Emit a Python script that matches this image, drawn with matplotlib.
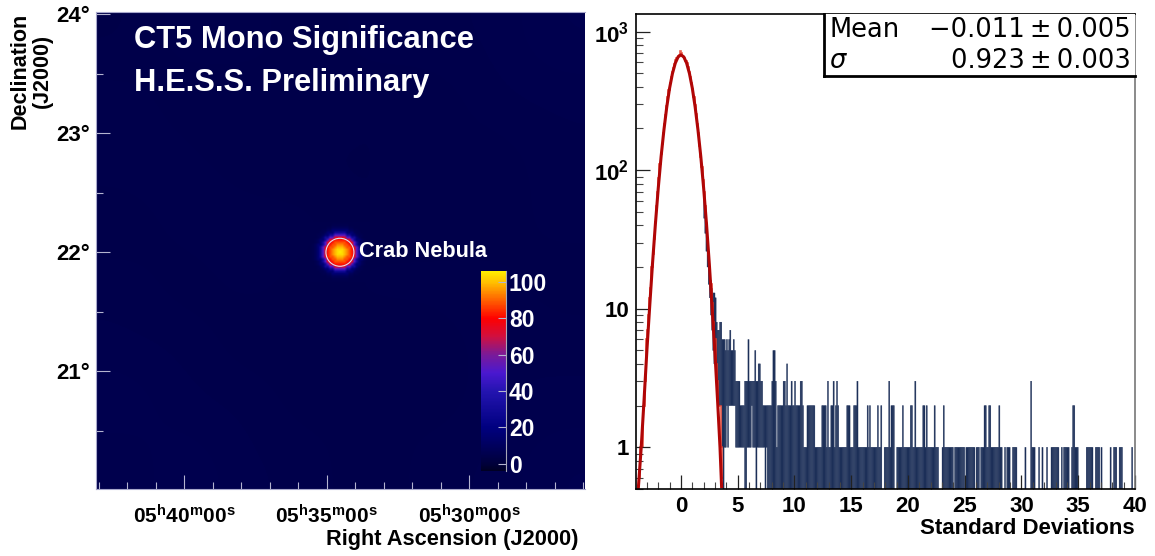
import numpy as np
import matplotlib
matplotlib.use('Agg')
import matplotlib.pyplot as plt
from matplotlib.colors import LinearSegmentedColormap, Normalize
from matplotlib.patches import Ellipse, Rectangle

W, H = 1155, 556
plt.rcParams['font.family'] = ['Liberation Sans', 'DejaVu Sans']
plt.rcParams['mathtext.fontset'] = 'custom'
plt.rcParams['mathtext.rm'] = 'Liberation Sans:bold'
plt.rcParams['mathtext.default'] = 'rm'

# --- significance map values
cmap_values = [-4, 0, 20, 40, 50, 60, 70, 80, 90, 100, 106]
cmap_colors = ['#000024', '#00003c', '#000080', '#2414b0', '#4a18d0', '#7a1a98', '#d01040',
               '#ff0000', '#ff6000', '#ffc000', '#ffee00']
background = [[5, 6, 5, 5, 4, 5, 5, 6],
              [6, 5, 5, 4, 5, 4, 5, 5],
              [5, 5, 4, 5, 4, 4, 5, 5],
              [5, 4, 5, 4, 5, 5, 5, 4],
              [4, 5, 5, 5, 4, 4, 4, 5],
              [5, 5, 4, 4, 4, 5, 4, 5],
              [5, 4, 4, 5, 4, 4, 5, 5],
              [4, 5, 5, 4, 5, 5, 5, 6]]
# value of the map by distance (in cells) from the source
spot_rings = [106, 103, 99, 94, 88, 82, 76, 52, 30, 16, 9, 6, 5]
source_ra = 34.54
source_dec = 22.0
ra_ticks = [40, 35, 30]
ra_labels = ['05$^{h}$40$^{m}$00$^{s}$', '05$^{h}$35$^{m}$00$^{s}$', '05$^{h}$30$^{m}$00$^{s}$']
dec_ticks = [21, 22, 23, 24]
dec_labels = ['21°', '22°', '23°', '24°']
cbar_ticks = [0, 20, 40, 60, 80, 100]

# --- histogram values (0.1 wide columns from 2.0 up, top and bottom of each)
tail_start = 2.0
tail_hi = [70, 56, 42, 32, 26, 20, 16, 14, 13, 13,
           12, 8, 7, 7, 8, 8, 6, 6, 6, 5,
           6, 5, 6, 7, 5, 5, 6, 5, 3, 3,
           3, 3, 2, 2, 2, 2, 3, 3, 3, 6,
           3, 3, 3, 3, 3, 5, 3, 3, 4, 4,
           3, 3, 2, 2, 2, 2, 2, 2, 2, 2,
           3, 5, 5, 3, 1, 2, 2, 2, 2, 2,
           3, 3, 2, 4, 2, 2, 2, 3, 2, 2,
           3, 2, 2, 2, 2, 3, 3, 2, 1, 1,
           1, 2, 2, 2, 2, 2, 2, 2, 1, 1,
           1, 1, 1, 1, 2, 2, 2, 2, 1, 3,
           1, 1, 2, 2, 3, 1, 2, 3, 2, 1,
           1, 1, 1, 1, 1, 1, 2, 2, 2, 1,
           1, 1, 2, 2, 2, 3, 1, 1, 1, 1,
           1, 1, 1, 1, 2, 1, 2, 1, 1, 1,
           1, 1, 1, 2, 1, 1, 2, 0, 0, 1,
           1, 1, 1, 3, 1, 2, 2, 2, 0, 0,
           1, 1, 1, 1, 1, 2, 1, 1, 1, 1,
           1, 1, 2, 2, 1, 1, 3, 1, 1, 1,
           1, 1, 1, 2, 2, 1, 2, 1, 1, 1,
           1, 1, 1, 2, 1, 1, 1, 0, 0, 0,
           1, 2, 1, 1, 1, 1, 1, 1, 1, 1,
           0, 1, 1, 1, 1, 1, 1, 1, 1, 1,
           0, 1, 1, 1, 1, 1, 1, 1, 1, 0,
           1, 1, 1, 0, 1, 1, 1, 2, 2, 1,
           1, 2, 2, 1, 1, 1, 1, 1, 1, 1,
           2, 1, 1, 0, 0, 1, 0, 1, 1, 1,
           0, 0, 1, 1, 1, 1, 0, 0, 0, 0,
           0, 0, 0, 1, 0, 0, 0, 0, 3, 1,
           1, 1, 0, 0, 0, 1, 0, 0, 1, 0,
           0, 0, 1, 0, 0, 0, 1, 1, 1, 1,
           1, 1, 1, 0, 0, 1, 0, 1, 1, 1,
           1, 1, 0, 0, 1, 2, 2, 1, 1, 1,
           0, 0, 0, 0, 0, 0, 0, 1, 1, 1,
           1, 1, 1, 0, 0, 1, 1, 1, 1, 0,
           1, 0, 0, 0, 0, 0, 0, 0, 1, 0,
           0, 1, 1, 1, 0, 0, 1, 1, 1, 0,
           0, 0, 0, 0, 0, 0, 0, 1, 0, 0]
# bottoms for the part where the columns do not reach the axis, the rest go down to it
tail_lo = [45, 35, 26, 20, 15, 12, 9, 7, 5, 4,
           4, 3, 2, 2, 2, 2, 1, 0, 1, 1,
           2, 1, 2, 2, 2, 2, 2, 2, 1, 1,
           1, 1, 1, 1, 1, 1, 0, 0, 1, 1,
           1, 1, 2, 1, 1, 1, 0, 1, 1, 1,
           1, 1, 1, 1, 0, 1, 0, 0, 0, 0]

# --- red histogram and fitted curve
core_start = -3.8
core_counts = [0.6, 0.6, 1, 1, 1, 2, 3, 6, 7, 9, 12, 14, 20, 25, 32, 42, 55, 70, 88, 110,
               130, 155, 185, 215, 250, 290, 335, 380, 425, 470, 510, 550, 585, 620, 645, 665, 680, 720,
               705, 670, 655, 640, 615, 590, 555, 515, 470, 425, 385, 340, 295, 255, 215, 185, 150,
               125, 105, 85, 70, 55, 40, 32, 25, 20, 15, 11, 8, 6, 6, 4, 3, 2, 2, 1, 0.6]
fit_x = [-3.76, -3.5, -3.25, -3.0, -2.75, -2.5, -2.25, -2.0, -1.75, -1.5, -1.25, -1.0, -0.75, -0.5, -0.25, 0,
         0.25, 0.5, 0.75, 1.0, 1.25, 1.5, 1.75, 2.0, 2.25, 2.5, 2.75, 3.0, 3.25, 3.44, 3.58]
fit_y = [0.5, 1.0, 2.2, 5, 10.5, 21.5, 41, 74, 125, 195, 286, 391, 498, 592, 657, 680,
         657, 592, 498, 391, 286, 195, 125, 74, 41, 21, 10, 4.7, 2.0, 1.0, 0.52]
mean_text = '−0.011\u2009±\u20090.005'
sigma_text = '0.923\u2009±\u20090.003'
x_ticks = [0, 5, 10, 15, 20, 25, 30, 35, 40]
y_ticks = [1, 10, 100, 1000]
y_labels = ['1', '10', '10$^{2}$', '10$^{3}$']


def px_axes(x0, y0, x1, y1):
    return fig.add_axes([x0 / W, 1 - y1 / H, (x1 - x0) / W, (y1 - y0) / H])


def px_text(x, y, s, **kw):
    kw.setdefault('va', 'center')
    kw.setdefault('fontweight', 'bold')
    return fig.text(x / W, 1 - y / H, s, **kw)


fig = plt.figure(figsize=(W / 100, H / 100), dpi=100)

# left panel
ax = px_axes(96, 12, 585, 489)
stops = [(v - cmap_values[0]) / (cmap_values[-1] - cmap_values[0]) for v in cmap_values]
cmap = LinearSegmentedColormap.from_list('hess', list(zip(stops, cmap_colors)))
norm = Normalize(cmap_values[0], cmap_values[-1])
ra_lim = (43.1, 25.94)
dec_lim = (20.01, 24.02)
ax.imshow(background, cmap=cmap, norm=norm, extent=[ra_lim[0], ra_lim[1], dec_lim[0], dec_lim[1]],
          aspect='auto', interpolation='bicubic', origin='lower')

n = len(spot_rings) - 1
spot = np.zeros((2 * n + 1, 2 * n + 1))
for i in range(2 * n + 1):
    for j in range(2 * n + 1):
        ring = min(int(round(np.hypot(i - n, j - n))), n)
        spot[i, j] = spot_rings[ring]
half_dec = (n + 0.5) * 0.02
half_ra = half_dec * 119 / 28.5
im = ax.imshow(spot, cmap=cmap, norm=norm, aspect='auto', interpolation='bilinear', origin='lower',
               extent=[source_ra + half_ra, source_ra - half_ra, source_dec - half_dec, source_dec + half_dec])
ax.set_xlim(ra_lim)
ax.set_ylim(dec_lim)
ax.add_patch(Ellipse((source_ra, source_dec), 2 * 14 / 28.5, 2 * 14 / 119, fill=False,
                     edgecolor='#e0e0f0', linewidth=0.8))

ax.set_xticks(ra_ticks)
ax.set_xticklabels(ra_labels, fontsize=15, fontweight='bold')
ax.set_xticks(np.arange(26, 44), minor=True)
ax.set_yticks(dec_ticks)
ax.set_yticklabels(dec_labels, fontsize=16, fontweight='bold')
ax.set_yticks([20.5, 21.5, 22.5, 23.5], minor=True)
ax.tick_params(which='major', direction='in', length=10, width=0.8, color='#b4b4d0', pad=4)
ax.tick_params(which='minor', direction='in', length=5, width=0.8, color='#b4b4d0')
ax.tick_params(axis='x', which='major', pad=11)
for side in ax.spines:
    ax.spines[side].set_color('#a8a8cc')
    ax.spines[side].set_linewidth(0.8)
ax.spines['right'].set_visible(False)

px_text(134, 40, 'CT5 Mono Significance', color='white', fontsize=22.2)
px_text(134, 83, 'H.E.S.S. Preliminary', color='white', fontsize=22.2)
px_text(359, 251, 'Crab Nebula', color='white', fontsize=15.7)
px_text(578, 539, 'Right Ascension (J2000)', ha='right', fontsize=15.7)
px_text(31, 13, 'Declination\n(J2000)', rotation=90, ha='center', va='top', ma='center', fontsize=15.5, linespacing=1.1)

# colour bar on top of the map
cax = px_axes(481, 271, 506, 471)
cb = fig.colorbar(im, cax=cax)
cb.set_ticks(cbar_ticks)
cb.ax.tick_params(direction='in', length=6, width=0.8, color='#b4b4d0', labelcolor='white',
                  labelsize=16.5, pad=2)
for lab in cb.ax.get_yticklabels():
    lab.set_fontweight('bold')
cb.outline.set_visible(False)
cb.ax.spines['right'].set_visible(True)
cb.ax.spines['right'].set_color('#a8a8b8')

# right panel
ax2 = px_axes(636, 14, 1135, 489)
ax2.set_yscale('log')
edges = tail_start + 0.1 * np.arange(len(tail_hi))
lows = tail_lo + [0] * (len(tail_hi) - len(tail_lo))
for x, hi, lo in zip(edges, tail_hi, lows):
    if hi > 0:
        bottom = max(lo, 0.5)
        ax2.bar(x, hi - bottom, width=0.1, bottom=bottom, align='edge', color='#1c2f58', linewidth=0.25,
                edgecolor='#1c2f58', snap=False)

core_edges = core_start + 0.1 * np.arange(len(core_counts) + 1)
ax2.stairs(core_counts, core_edges, baseline=None, color='#e8402c', linewidth=1.2, alpha=0.85)
ax2.plot(fit_x, fit_y, color='#b00606', linewidth=2.2)

ax2.set_xlim(-3.96, 40)
ax2.set_ylim(0.5, 1340)
ax2.set_xticks(x_ticks)
ax2.set_xticklabels([str(t) for t in x_ticks], fontsize=16, fontweight='bold')
ax2.set_xticks(np.arange(-3, 40, 1), minor=True)
ax2.set_yticks(y_ticks)
ax2.set_yticklabels(y_labels, fontsize=16, fontweight='bold')
ax2.yaxis.set_minor_locator(matplotlib.ticker.LogLocator(base=10, subs=range(2, 10), numticks=12))
ax2.yaxis.set_minor_formatter(matplotlib.ticker.NullFormatter())
ax2.tick_params(which='major', direction='in', length=10, width=0.9, color='#222222', pad=5)
ax2.tick_params(which='minor', direction='in', length=5, width=0.8, color='#444444')
for side in ['left', 'bottom', 'top']:
    ax2.spines[side].set_linewidth(1.2)
ax2.spines['right'].set_color('#777777')
ax2.spines['right'].set_linewidth(1.2)

box = Rectangle((824 / W, 1 - 76 / H), (1135 - 824) / W, 62 / H, transform=fig.transFigure,
                facecolor='white', edgecolor='none', zorder=3)
fig.add_artist(box)
fig.add_artist(plt.Line2D([824 / W, 824 / W], [1 - 14 / H, 1 - 76 / H], color='black', linewidth=2, zorder=4))
fig.add_artist(plt.Line2D([824 / W, 1135 / W], [1 - 76 / H, 1 - 76 / H], color='black', linewidth=2, zorder=4))
px_text(829, 30, 'Mean', fontsize=18.5, fontweight='normal', family='DejaVu Sans', zorder=5)
px_text(829, 61, 'σ', fontsize=18.5, fontweight='normal', family='DejaVu Sans', style='italic', zorder=5)
px_text(1131, 30, mean_text, ha='right', fontsize=18.5, fontweight='normal', family='DejaVu Sans', zorder=5)
px_text(1131, 61, sigma_text, ha='right', fontsize=18.5, fontweight='normal', family='DejaVu Sans', zorder=5)
px_text(1135, 528, 'Standard Deviations', ha='right', fontsize=16)

fig.savefig('out.png', dpi=100)
